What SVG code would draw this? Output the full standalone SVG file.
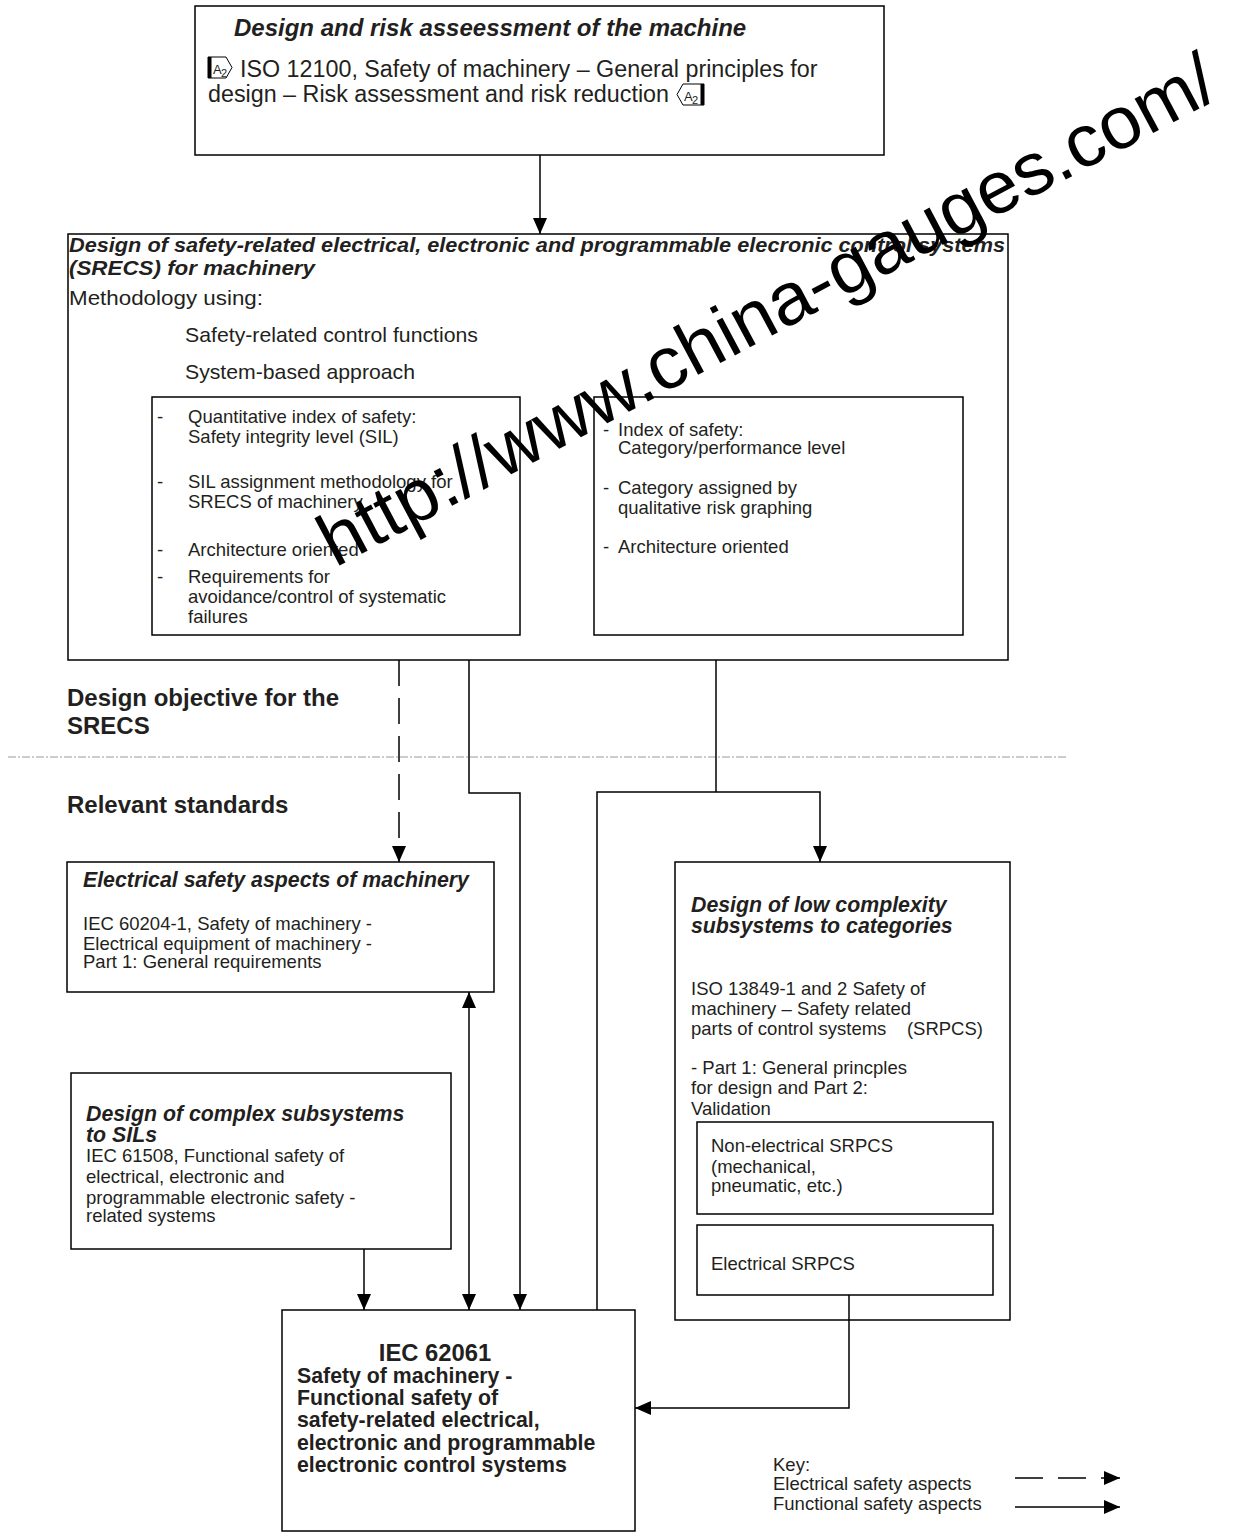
<svg xmlns="http://www.w3.org/2000/svg" width="1239" height="1540" viewBox="0 0 1239 1540">
<style>
text{font-family:"Liberation Sans",Arial,sans-serif;fill:#231f20}
.box{fill:none;stroke:#000;stroke-width:1.5}
.t{font-weight:bold;font-style:italic;font-size:21.3px}
.b{font-size:18.5px}
.con{fill:none;stroke:#000;stroke-width:1.5}
.dash{stroke-dasharray:26 12}
.lab{font-weight:bold;font-size:24px}
</style>
<defs>
<marker id="ah" markerWidth="16" markerHeight="14" refX="16" refY="7" orient="auto" markerUnits="userSpaceOnUse" viewBox="0 0 16 14">
<path d="M0,0 L16,7 L0,14 Z" fill="#000"/>
</marker>
</defs>
<rect width="1239" height="1540" fill="#fff"/>

<g id="top">
<rect class="box" x="195" y="6" width="689" height="149"/>
<text x="234" y="36" font-size="24" font-weight="bold" font-style="italic">Design and risk asseessment of the machine</text>
<path d="M208,57 L226,57 L232,67.5 L226,78 L208,78 Z" fill="none" stroke="#000" stroke-width="1"/>
<rect x="208" y="57" width="3.5" height="21" fill="#000"/>
<text x="213" y="74" font-size="13">A</text><text x="221" y="77" font-size="11">2</text>
<text x="240" y="77" font-size="23.3">ISO 12100, Safety of machinery – General principles for</text>
<text x="208" y="102" font-size="23.3">design – Risk assessment and risk reduction</text>
<path d="M683,84 L704,84 L704,105 L683,105 L677,94.5 Z" fill="none" stroke="#000" stroke-width="1"/>
<rect x="700.5" y="84" width="3.5" height="21" fill="#000"/>
<text x="684" y="101" font-size="13">A</text><text x="692" y="104" font-size="11">2</text>
</g>

<g id="srecs">
<rect class="box" x="68" y="234" width="940" height="426"/>
<text x="69" y="252" font-size="21" font-weight="bold" font-style="italic" textLength="936" lengthAdjust="spacingAndGlyphs">Design of safety-related electrical, electronic and programmable elecronic control systems</text>
<text x="69" y="275" font-size="21" font-weight="bold" font-style="italic" textLength="246" lengthAdjust="spacingAndGlyphs">(SRECS) for machinery</text>
<text x="69" y="305" font-size="21" textLength="194" lengthAdjust="spacingAndGlyphs">Methodology using:</text>
<text x="185" y="342" font-size="21" textLength="293" lengthAdjust="spacingAndGlyphs">Safety-related control functions</text>
<text x="185" y="379" font-size="21" textLength="230" lengthAdjust="spacingAndGlyphs">System-based approach</text>
</g>

<g id="sil">
<rect class="box" x="152" y="397" width="368" height="238"/>
<g class="b">
<text x="157" y="423">-</text><text x="188" y="423">Quantitative index of safety:</text>
<text x="188" y="443">Safety integrity level (SIL)</text>
<text x="157" y="488">-</text><text x="188" y="488">SIL assignment methodology for</text>
<text x="188" y="508">SRECS of machinery</text>
<text x="157" y="556">-</text><text x="188" y="556">Architecture oriented</text>
<text x="157" y="583">-</text><text x="188" y="583">Requirements for</text>
<text x="188" y="603">avoidance/control of systematic</text>
<text x="188" y="623">failures</text>
</g>
</g>

<g id="cat">
<rect class="box" x="594" y="397" width="369" height="238"/>
<g class="b">
<text x="603" y="436">-</text><text x="618" y="436">Index of safety:</text>
<text x="618" y="454">Category/performance level</text>
<text x="603" y="494">-</text><text x="618" y="494">Category assigned by</text>
<text x="618" y="514">qualitative risk graphing</text>
<text x="603" y="553">-</text><text x="618" y="553">Architecture oriented</text>
</g>
</g>

<g id="labels">
<text class="lab" x="67" y="706">Design objective for the</text>
<text class="lab" x="67" y="734">SRECS</text>
<text class="lab" x="67" y="813">Relevant standards</text>
<line x1="8" y1="757" x2="1068" y2="757" stroke="#999" stroke-width="1" stroke-dasharray="8 2 2 2"/>
</g>

<g id="elec">
<rect class="box" x="67" y="862" width="427" height="130"/>
<text class="t" x="83" y="887">Electrical safety aspects of machinery</text>
<g class="b">
<text x="83" y="930">IEC 60204-1, Safety of machinery -</text>
<text x="83" y="950">Electrical equipment of machinery -</text>
<text x="83" y="968">Part 1: General requirements</text>
</g>
</g>

<g id="complex">
<rect class="box" x="71" y="1073" width="380" height="176"/>
<text class="t" x="86" y="1121">Design of complex subsystems</text>
<text class="t" x="86" y="1142">to SILs</text>
<g class="b">
<text x="86" y="1162">IEC 61508, Functional safety of</text>
<text x="86" y="1183">electrical, electronic and</text>
<text x="86" y="1204">programmable electronic safety -</text>
<text x="86" y="1222">related systems</text>
</g>
</g>

<g id="low">
<rect class="box" x="675" y="862" width="335" height="458"/>
<text class="t" x="691" y="912">Design of low complexity</text>
<text class="t" x="691" y="933">subsystems to categories</text>
<g class="b">
<text x="691" y="995">ISO 13849-1 and 2 Safety of</text>
<text x="691" y="1015">machinery – Safety related</text>
<text x="691" y="1035" xml:space="preserve">parts of control systems    (SRPCS)</text>
<text x="691" y="1074">- Part 1: General princples</text>
<text x="691" y="1094">for design and Part 2:</text>
<text x="691" y="1115">Validation</text>
</g>
</g>

<g id="nonelec">
<rect class="box" x="697" y="1122" width="296" height="92"/>
<g class="b">
<text x="711" y="1152">Non-electrical SRPCS</text>
<text x="711" y="1173">(mechanical,</text>
<text x="711" y="1192">pneumatic, etc.)</text>
</g>
</g>

<g id="esrpcs">
<rect class="box" x="697" y="1225" width="296" height="70"/>
<text class="b" x="711" y="1270">Electrical SRPCS</text>
</g>

<g id="iec62061">
<rect class="box" x="282" y="1310" width="353" height="221"/>
<text x="435" y="1361" font-size="23.8" font-weight="bold" text-anchor="middle">IEC 62061</text>
<g font-size="21.3" font-weight="bold">
<text x="297" y="1383">Safety of machinery -</text>
<text x="297" y="1405">Functional safety of</text>
<text x="297" y="1427">safety-related electrical,</text>
<text x="297" y="1450">electronic and programmable</text>
<text x="297" y="1472">electronic control systems</text>
</g>
</g>

<g id="connectors">
<line class="con" x1="540" y1="155" x2="540" y2="234" marker-end="url(#ah)"/>
<line class="con dash" x1="399" y1="660" x2="399" y2="862" stroke-width="2.5" marker-end="url(#ah)"/>
<polyline class="con" points="469,660 469,793 520,793 520,1310" marker-end="url(#ah)"/>
<line class="con" x1="716" y1="660" x2="716" y2="792"/>
<polyline class="con" points="597,1310 597,792 820,792 820,862" marker-end="url(#ah)"/>
<line class="con" x1="469" y1="1150" x2="469" y2="992" marker-end="url(#ah)"/>
<line class="con" x1="469" y1="1150" x2="469" y2="1310" marker-end="url(#ah)"/>
<line class="con" x1="364" y1="1249" x2="364" y2="1310" marker-end="url(#ah)"/>
<polyline class="con" points="849,1295 849,1408 635,1408" marker-end="url(#ah)"/>
</g>

<g id="key">
<text class="b" x="773" y="1471">Key:</text>
<text class="b" x="773" y="1490">Electrical safety aspects</text>
<text class="b" x="773" y="1510">Functional safety aspects</text>
<line class="con" x1="1015" y1="1478" x2="1120" y2="1478" stroke-width="2.5" stroke-dasharray="28 15" marker-end="url(#ah)"/>
<line class="con" x1="1015" y1="1507" x2="1120" y2="1507" marker-end="url(#ah)"/>
</g>

<text x="335" y="568" font-size="74" style="fill:#000" transform="rotate(-28 335 568)" textLength="1005" lengthAdjust="spacingAndGlyphs">http://www.china-gauges.com/</text>
</svg>
